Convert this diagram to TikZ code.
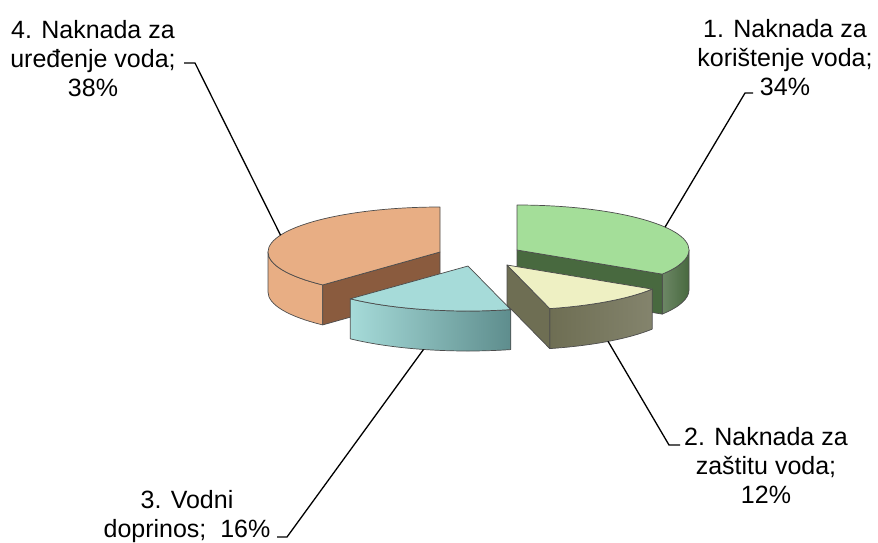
\documentclass[tikz,border=0pt]{standalone}
\usepackage{fontspec}
\setmainfont{Liberation Sans}
\usetikzlibrary{calc}
\definecolor{grntop}{HTML}{A4DE99}
\definecolor{grnside}{HTML}{48693F}
\definecolor{yeltop}{HTML}{EEF0C3}
\definecolor{olvside}{HTML}{6E6E53}
\definecolor{olvlight}{HTML}{A3A381}
\definecolor{cyntop}{HTML}{A6DBD9}
\definecolor{cynside}{HTML}{5E8D8D}
\definecolor{orgtop}{HTML}{E8AE84}
\definecolor{orgcut}{HTML}{8A5B3E}
\tikzset{
    slice/.style={draw=black!70, line width=0.7pt, line join=round},
    pielabel/.style={align=center, anchor=north, inner sep=0pt, font=\fontsize{25}{29}\selectfont},
    leader/.style={draw=black, line width=1.3pt} }

\begin{document}
\begin{tikzpicture}[x=1pt, y=1pt]
    \useasboundingbox (0,0) rectangle (878,-542);
    % slice centres (top face)
    \coordinate (C4) at (440,-252);
    \coordinate (C1) at (517,-250);
    \coordinate (C2) at (507,-265);
    \coordinate (C3) at (468,-266);
    % ---- 4. uredjenje voda
    \path[slice, fill=orgtop] ($(C4)+(180:172pt and 45pt)$) arc[start angle=180, end angle=227, x radius=172pt, y radius=45pt]
        -- ++(0,-40) arc[start angle=227, end angle=180, x radius=172pt, y radius=45pt] -- cycle;
    \path[slice, fill=orgcut] (C4) -- ($(C4)+(227:172pt and 45pt)$) -- ++(0,-40) -- ($(C4)+(0,-40)$) -- cycle;
    \path[slice, fill=orgtop] (C4) -- ($(C4)+(90:172pt and 45pt)$) arc[start angle=90, end angle=227, x radius=172pt, y radius=45pt] -- cycle;
    % ---- 1. koristenje voda
    \path[slice, left color=grnside!80, right color=grnside] ($(C1)+(0:172pt and 45pt)$) arc[start angle=0, end angle=-32.4, x radius=172pt, y radius=45pt]
        -- ++(0,-40) arc[start angle=-32.4, end angle=0, x radius=172pt, y radius=45pt] -- cycle;
    \path[slice, fill=grnside] (C1) -- ($(C1)+(-32.4:172pt and 45pt)$) -- ++(0,-40) -- ($(C1)+(0,-40)$) -- cycle;
    \path[slice, fill=grntop] (C1) -- ($(C1)+(90:172pt and 45pt)$) arc[start angle=90, end angle=-32.4, x radius=172pt, y radius=45pt] -- cycle;
    % ---- 2. zastitu voda
    \path[slice, left color=olvside, middle color=olvlight, right color=olvside!85] ($(C2)+(-32.4:172pt and 45pt)$) arc[start angle=-32.4, end angle=-75.6, x radius=172pt, y radius=45pt]
        -- ++(0,-40) arc[start angle=-75.6, end angle=-32.4, x radius=172pt, y radius=45pt] -- cycle;
    \path[slice, fill=olvside] (C2) -- ($(C2)+(-75.6:172pt and 45pt)$) -- ++(0,-40) -- ($(C2)+(0,-40)$) -- cycle;
    \path[slice, fill=yeltop] (C2) -- ($(C2)+(-32.4:172pt and 45pt)$) arc[start angle=-32.4, end angle=-75.6, x radius=172pt, y radius=45pt] -- cycle;
    % ---- 3. vodni doprinos
    \path[slice, left color=cyntop, middle color=cyntop!80!cynside, right color=cynside] ($(C3)+(-75.6:172pt and 45pt)$) arc[start angle=-75.6, end angle=-133.2, x radius=172pt, y radius=45pt]
        -- ++(0,-40) arc[start angle=-133.2, end angle=-75.6, x radius=172pt, y radius=45pt] -- cycle;
    \path[slice, fill=cyntop] (C3) -- ($(C3)+(-75.6:172pt and 45pt)$) arc[start angle=-75.6, end angle=-133.2, x radius=172pt, y radius=45pt] -- cycle;
    % labels
    \node[pielabel] (lab1) at (785,-19) {1. Naknada za\\korištenje voda;\\34\%};
    \node[pielabel] (lab2) at (766,-427) {2. Naknada za\\zaštitu voda;\\12\%};
    \node[pielabel] (lab3) at (187,-490) {3. Vodni\\doprinos;\ \ 16\%};
    \node[pielabel] (lab4) at (93,-20) {4. Naknada za\\uređenje voda;\\38\%};
    % leader ends
    \coordinate (p1) at ($(C1)+(30.6:172pt and 45pt)$);
    \coordinate (p2) at ($(C2)+(-54:172pt and 45pt)+(0,-40)$);
    \coordinate (p3) at ($(C3)+(-105:172pt and 45pt)+(0,-40)$);
    \coordinate (p4) at ($(C4)+(158:172pt and 45pt)$);
    \coordinate (t1) at (753,-93);
    \coordinate (t2) at (680,-445);
    \coordinate (t3) at (277,-537);
    \coordinate (t4) at (184,-63);
    \path[leader] (t1) -- ++(-8,0) -- (p1);
    \path[leader] (t2) -- ++(-11,0) -- (p2);
    \path[leader] (t3) -- ++(10,0) -- (p3);
    \path[leader] (t4) -- ++(11,0) -- (p4);
\end{tikzpicture}
\end{document}
